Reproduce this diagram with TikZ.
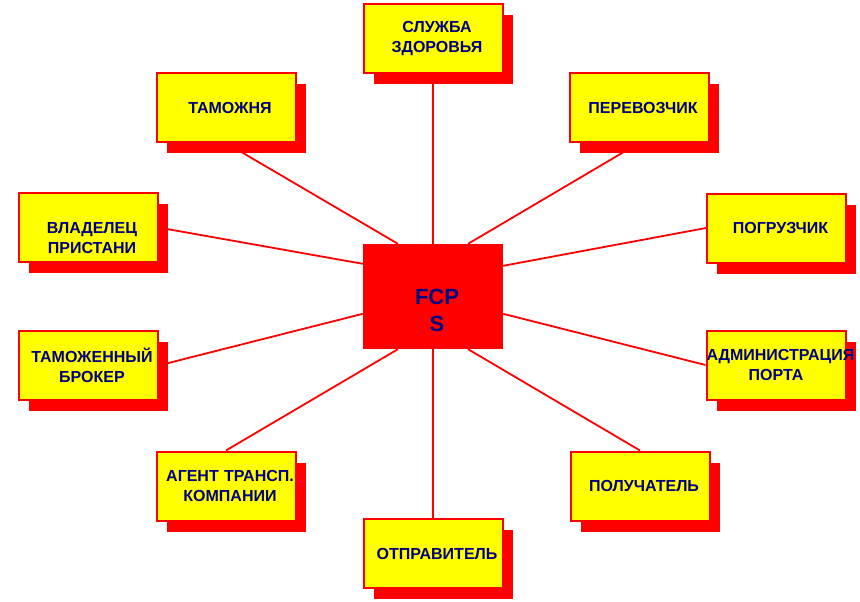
\documentclass[tikz,border=0pt]{standalone}
\usepackage{fontspec}
\setmainfont{Liberation Sans}
\usetikzlibrary{shadows,calc,backgrounds}
\definecolor{navytext}{RGB}{0,0,128}
\definecolor{hubred}{RGB}{255,0,0}
\definecolor{boxyellow}{RGB}{255,255,0}
\begin{document}
\begin{tikzpicture}[x=1pt,y=-1pt,
  yellowbox/.style={draw=hubred, line width=2pt, fill=boxyellow,
    minimum width=139pt, minimum height=69pt, text width=139pt,
    inner xsep=0pt, inner ysep=2pt, align=center, text=navytext,
    font=\bfseries\fontsize{16}{20.5}\selectfont,
    drop shadow={shadow xshift=10pt, shadow yshift=-11pt, fill=hubred, opacity=1}},
  nudged/.style={yellowbox, execute at begin node={\advance\leftskip by 8pt}},
  hub/.style={fill=hubred, minimum width=140pt, minimum height=105pt,
    inner sep=0pt, align=center, text=navytext,
    font=\bfseries\fontsize{22}{27}\selectfont},
  link/.style={draw=hubred, line width=1.8pt}]
\useasboundingbox (0,0) rectangle (860,602);
\node[hub] (c) at (433,296.5) {\rule{0pt}{16pt}\\\hspace*{8pt}FCP\\\hspace*{8pt}S};
\node[nudged] (s)  at (433,38.5)  {СЛУЖБА\\ЗДОРОВЬЯ};
\node[nudged] (t)  at (226,107.5) {ТАМОЖНЯ};
\node[nudged] (p)  at (639,107.5) {ПЕРЕВОЗЧИК};
\node[nudged] (v)  at (88,227.5)  {\rule{0pt}{12pt}\\ВЛАДЕЛЕЦ\\ПРИСТАНИ};
\node[nudged] (g)  at (776.5,228) {ПОГРУЗЧИК};
\node[nudged] (b)  at (88,365.5)  {ТАМОЖЕННЫЙ\\БРОКЕР};
\node[yellowbox] (a)  at (776,365)   {АДМИНИСТРАЦИЯ\\ПОРТА};
\node[nudged] (ag) at (226,486)   {АГЕНТ~ТРАНСП.\\КОМПАНИИ};
\node[nudged] (pl) at (640,486)   {ПОЛУЧАТЕЛЬ};
\node[nudged] (o)  at (433,553.5) {ОТПРАВИТЕЛЬ};
\begin{scope}[on background layer]
\draw[link] (c.north) -- (s.south);
\draw[link] ($(c.north west)!0.25!(c.north east)$) -- (t.south);
\draw[link] ($(c.north west)!0.75!(c.north east)$) -- (p.south);
\draw[link] ($(c.north west)+(0,20)$) -- (v.east);
\draw[link] ($(c.north east)+(0,22)$) -- (g.west);
\draw[link] ($(c.north west)+(0,70)$) -- (b.east);
\draw[link] ($(c.north east)+(0,70)$) -- (a.west);
\draw[link] ($(c.south west)!0.25!(c.south east)$) -- (ag.north);
\draw[link] ($(c.south west)!0.75!(c.south east)$) -- (pl.north);
\draw[link] (c.south) -- (o.north);
\end{scope}
\end{tikzpicture}
\end{document}
